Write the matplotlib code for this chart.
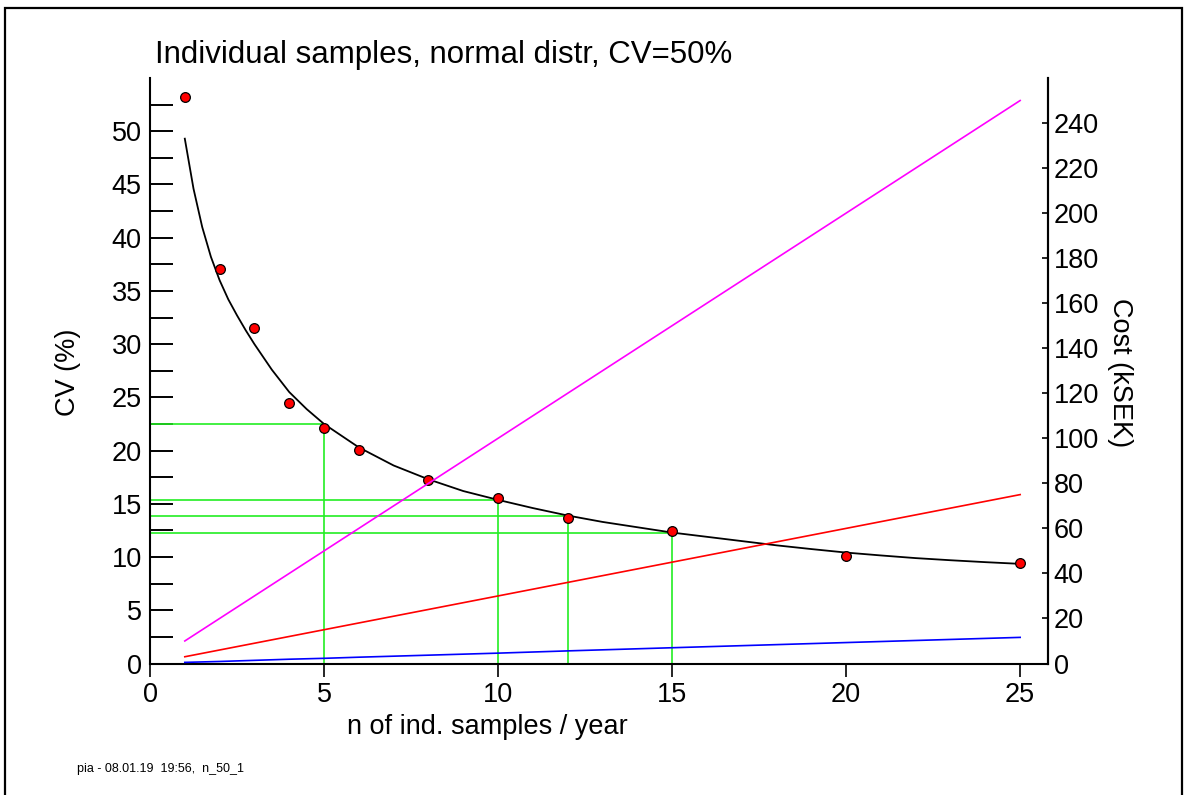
import numpy as np
import matplotlib
matplotlib.use("Agg")
import matplotlib.pyplot as plt
from matplotlib.patches import Rectangle

plt.rcParams['font.family'] = ['Liberation Sans', 'DejaVu Sans']

# observed CV per number of samples
n_obs = [1, 2, 3, 4, 5, 6, 8, 10, 12, 15, 20, 25]
cv_obs = [53.2, 37.1, 31.5, 24.5, 22.1, 20.1, 17.2, 15.5, 13.7, 12.4, 10.1, 9.4]

# fitted curve
n_fit = [1, 1.25, 1.5, 1.75, 2, 2.25, 2.5, 2.75, 3, 3.5, 4, 4.5, 5, 6, 7, 8, 9, 10,
         11, 12, 13, 14, 15, 16, 17, 18, 19, 20, 21, 22, 23, 24, 25]
cv_fit = [49.3, 44.6, 41.0, 38.2, 36.0, 34.2, 32.7, 31.3, 30.0, 27.6, 25.5, 23.9,
          22.5, 20.3, 18.6, 17.3, 16.2, 15.37, 14.6, 13.9, 13.3, 12.8, 12.3, 11.9,
          11.5, 11.1, 10.75, 10.42, 10.15, 9.9, 9.7, 9.52, 9.36]

# green guide lines
n_mark = [5, 10, 12, 15]
cv_mark = [22.5, 15.37, 13.9, 12.3]

# cost lines (kSEK)
n_cost = [1, 2, 3, 4, 5, 6, 8, 10, 12, 15, 20, 25]
cost_magenta = [10, 20, 30, 40, 50, 60, 80, 100, 120, 150, 200, 250]
cost_red = [3, 6, 9, 12, 15, 18, 24, 30, 36, 45, 60, 75]
cost_blue = [0.5, 0.9, 1.4, 1.9, 2.3, 2.8, 3.7, 4.6, 5.6, 7.0, 9.3, 11.6]

W, H = 1184, 795
fig = plt.figure(figsize=(W / 100, H / 100), dpi=100)
ax = fig.add_axes([150 / W, 1 - 663.5 / H, 898 / W, 585.5 / H])
ax2 = ax.twinx()

green = '#22ee22'
for n, c in zip(n_mark, cv_mark):
    ax.plot([0, n], [c, c], color=green, lw=1.2, zorder=2)
    ax.plot([n, n], [0, c], color=green, lw=1.2, zorder=2)

ax.plot(n_fit, cv_fit, color='black', lw=1.3, zorder=3)
ax.plot(n_obs, cv_obs, 'o', ms=7, mfc='red', mec='black', mew=0.9, zorder=4)

ax2.plot(n_cost, cost_magenta, color='#ff00ff', lw=1.2)
ax2.plot(n_cost, cost_red, color='red', lw=1.2)
ax2.plot(n_cost, cost_blue, color='blue', lw=1.2)

ax.set_xlim(0, 25.8)
ax.set_ylim(0, 55)
ax2.set_ylim(0, 260)

ax.set_xticks(np.arange(0, 26, 5))
ax.set_yticks(np.arange(0, 51, 5))
ax.set_yticks(np.arange(2.5, 53, 5), minor=True)
ax2.set_yticks(np.arange(0, 241, 20))

for a in (ax, ax2):
    a.spines['top'].set_visible(False)
    for s in a.spines.values():
        s.set_linewidth(1.5)
ax2.spines['left'].set_visible(False)
ax2.spines['bottom'].set_visible(False)

ax.tick_params(axis='y', which='both', direction='in', length=16.5, width=1.4,
               labelsize=19.5, pad=6)
ax.tick_params(axis='x', direction='out', length=9.5, width=1.2, labelsize=19.5, pad=4)
ax2.tick_params(axis='y', direction='in', length=4.5, width=1.2, labelsize=19.5, pad=4)

fig.text(155 / W, 1 - 63 / H, 'Individual samples, normal distr, CV=50%',
         fontsize=22.5, ha='left', va='baseline')
fig.text(487 / W, 1 - 734 / H, 'n of ind. samples / year', fontsize=19.5,
         ha='center', va='baseline')
fig.text(68 / W, 1 - 372 / H, 'CV (%)', fontsize=19.5, rotation=90,
         ha='center', va='center')
fig.text(1120 / W, 1 - 373 / H, 'Cost (kSEK)', fontsize=19.5, rotation=270,
         ha='center', va='center')
fig.text(77 / W, 1 - 772 / H, 'pia - 08.01.19  19:56,  n_50_1', fontsize=9,
         ha='left', va='baseline')

fig.patches.append(Rectangle((5 / W, -0.02), 1177 / W, 1.02 - 8 / H,
                             transform=fig.transFigure, fill=False,
                             edgecolor='black', lw=1.6))

fig.savefig('out.png', dpi=100)
